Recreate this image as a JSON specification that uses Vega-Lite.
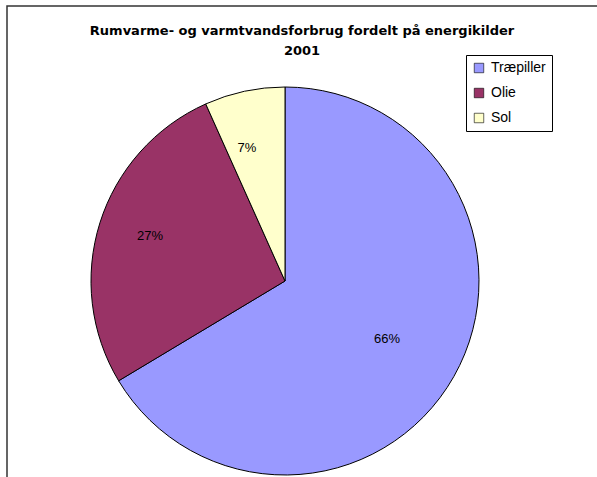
{
  "$schema": "https://vega.github.io/schema/vega-lite/v6.json",
  "autosize": "none",
  "width": 620,
  "height": 550,
  "padding": {"left": 7, "top": 6, "right": 0, "bottom": 0},
  "background": "white",
  "view": {"stroke": "#333333", "strokeWidth": 1.5, "fill": "white"},
  "config": {
    "view": {"stroke": "#333333", "strokeWidth": 1.5},
    "font": "Liberation Sans"
  },
  "title": {
    "text": ["Rumvarme- og varmtvandsforbrug fordelt på energikilder", "2001"],
    "font": "DejaVu Sans",
    "fontSize": 13,
    "fontWeight": "bold",
    "color": "black",
    "anchor": "middle",
    "baseline": "top",
    "lineHeight": 20,
    "orient": "top",
    "offset": 0,
    "dx": -15,
    "dy": 52
  },
  "data": {
    "values": [
      {"kilde": "Træpiller", "andel": 66.4, "label": "66%", "i": 1},
      {"kilde": "Olie", "andel": 26.9, "label": "27%", "i": 2},
      {"kilde": "Sol", "andel": 6.7, "label": "7%", "i": 3}
    ]
  },
  "encoding": {
    "theta": {"field": "andel", "type": "quantitative", "stack": true},
    "order": {"field": "i", "type": "quantitative"}
  },
  "layer": [
    {
      "mark": {"type": "arc", "outerRadius": 194, "stroke": "black", "strokeWidth": 1, "xOffset": -32},
      "encoding": {
        "color": {
          "field": "kilde",
          "type": "nominal",
          "scale": {"domain": ["Træpiller", "Olie", "Sol"], "range": ["#9999FF", "#993366", "#FFFFCC"]},
          "legend": {
            "title": null,
            "orient": "none",
            "legendX": 459,
            "legendY": 49,
            "symbolType": "square",
            "symbolSize": 90,
            "symbolStrokeColor": "black",
            "symbolStrokeWidth": 0.6,
            "labelFont": "Liberation Sans",
            "labelFontSize": 14,
            "labelColor": "black",
            "rowPadding": 11,
            "labelOffset": 5,
            "strokeColor": "black",
            "padding": 6,
            "fillColor": "white"
          }
        }
      }
    },
    {
      "mark": {"type": "text", "radius": 130, "font": "Liberation Sans", "fontSize": 13, "color": "black", "xOffset": -32, "dx": -11, "dy": -6},
      "encoding": {
        "text": {"field": "label", "type": "nominal"}
      }
    }
  ]
}
